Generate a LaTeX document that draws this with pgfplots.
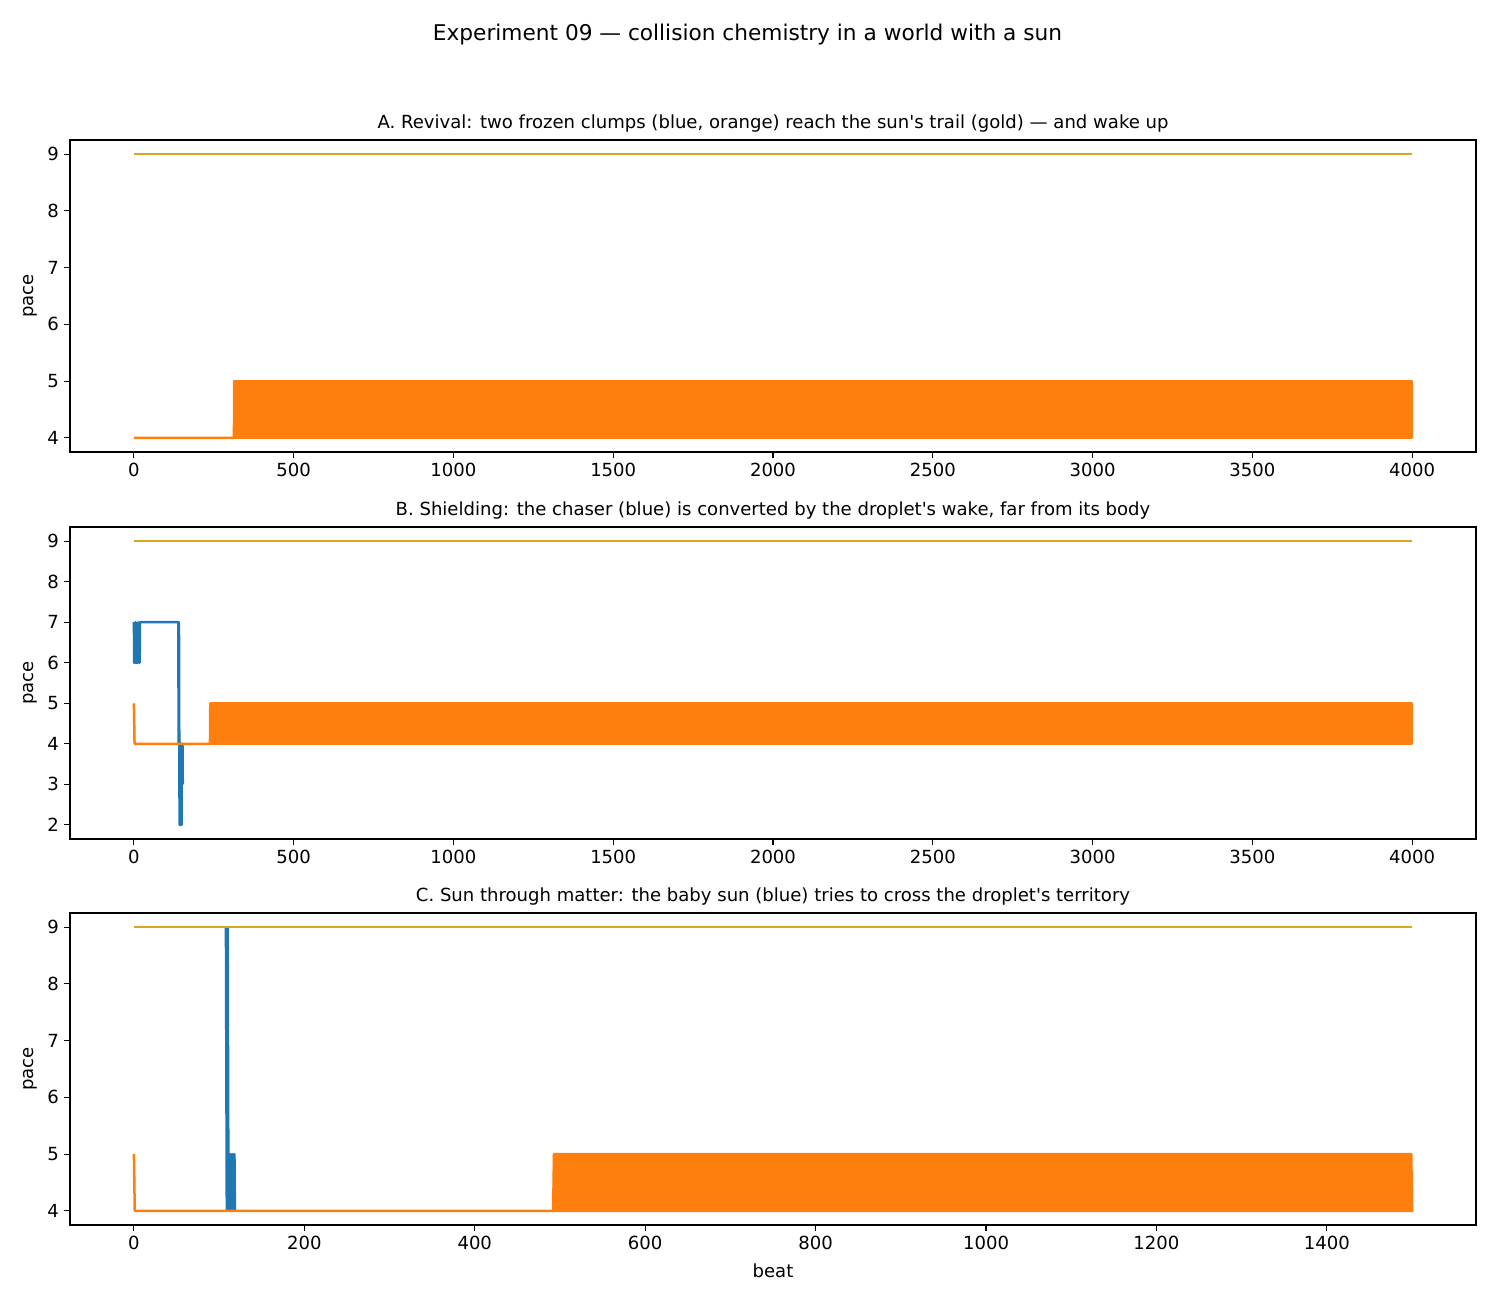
\documentclass[border=0pt]{standalone}
\usepackage{pgfplots}
\pgfplotsset{compat=1.18}
\usepackage{fontspec}
\setmainfont{DejaVu Sans}
% plain family without TeX ligature mapping, so ' stays a straight quote
\newfontfamily\plainsans{DejaVu Sans}

\definecolor{cblue}{RGB}{31,119,180}
\definecolor{corange}{RGB}{255,127,14}
\definecolor{cgold}{RGB}{218,165,32}

\pgfplotsset{
  panel/.style={
    scale only axis,
    width=1012.32pt, height=224.64pt,
    axis line style={line width=0.8pt},
    tick align=outside,
    major tick length=4.5pt,
    tick style={line width=0.8pt, black},
    xtick pos=bottom, ytick pos=left,
    /pgf/number format/assume math mode=true,
    /pgf/number format/1000 sep={},
    ticklabel style={font=\plainsans\fontsize{13}{15}\selectfont},
    label style={font=\plainsans\fontsize{13}{15}\selectfont},
    title style={font=\plainsans\fontsize{13}{15}\selectfont, at={(rel axis cs:0.5,1)}, anchor=center, yshift=6pt},
    ylabel={pace},
    ylabel style={at={(axis description cs:-0.0285,0.5)}, anchor=center},
    clip=true,
  },
  trace/.style={line width=1.8pt, line join=round},
  sunline/.style={line width=1.5pt, cgold},
}

\begin{document}
\begin{tikzpicture}
\path[use as bounding box] (0,0) rectangle (1076.4pt,-936pt);
\node[font=\plainsans\fontsize{15.6}{18}\selectfont] at (538.2pt,-25.2pt) {Experiment 09 — collision chemistry in a world with a sun};

% Panel A
\begin{axis}[panel, at={(50.4pt,-100.8pt)}, anchor=north west,
  title={A. Revival: two frozen clumps (blue, orange) reach the sun's trail (gold) — and wake up},
  xmin=-200, xmax=4200, ymin=3.75, ymax=9.25,
  xtick={0,500,...,4000}, ytick={4,5,6,7,8,9}]
\addplot[trace, cblue] coordinates {(0,4) (313,4)};
\addplot[trace, corange] coordinates {(0,4) (313,4) (314,5)};
\addplot[trace, corange, fill=corange] coordinates {(314,4) (314,5) (4000,5) (4000,4)} -- cycle;
\addplot[sunline] coordinates {(0,9) (4000,9)};
\end{axis}

% Panel B
\begin{axis}[panel, at={(50.4pt,-379.44pt)}, anchor=north west,
  title={B. Shielding: the chaser (blue) is converted by the droplet's wake, far from its body},
  xmin=-200, xmax=4200, ymin=1.65, ymax=9.35,
  xtick={0,500,...,4000}, ytick={2,3,4,5,6,7,8,9}]
\addplot[trace, cblue] coordinates {
  (0,7) (1,6) (4,6) (5,7) (7,6) (12,6) (13,7) (16,6) (18,6) (19,7)
  (139,7) (140,4) (141,7) (142,4) (143,2) (144,4) (145,2) (146,4)
  (147,2) (148,4) (149,2) (150,4) (151,3) (152,4) (153,3)};
\addplot[trace, corange] coordinates {(0,5) (2,4) (238,4) (239,5)};
\addplot[trace, corange, fill=corange] coordinates {(239,4) (239,5) (4000,5) (4000,4)} -- cycle;
\addplot[sunline] coordinates {(0,9) (4000,9)};
\end{axis}

% Panel C
\begin{axis}[panel, at={(50.4pt,-657.36pt)}, anchor=north west,
  title={C. Sun through matter: the baby sun (blue) tries to cross the droplet's territory},
  xmin=-75, xmax=1575, ymin=3.75, ymax=9.25,
  xtick={0,200,...,1400}, ytick={4,5,6,7,8,9},
  xlabel={beat},
  xlabel style={at={(rel axis cs:0.5,0)}, anchor=center, yshift=-33.1pt}]
\addplot[trace, cblue] coordinates {
  (108,9) (109,4) (110,9) (111,4) (112,5) (113,4) (114,5) (115,4)
  (116,5) (117,4) (118,5) (118.5,4)};
\addplot[trace, corange] coordinates {(0,5) (1,4) (492,4) (493,5)};
\addplot[trace, corange, fill=corange] coordinates {(493,4) (493,5) (1499,5) (1500,4)} -- cycle;
\addplot[sunline] coordinates {(0,9) (1500,9)};
\end{axis}
\end{tikzpicture}
\end{document}
